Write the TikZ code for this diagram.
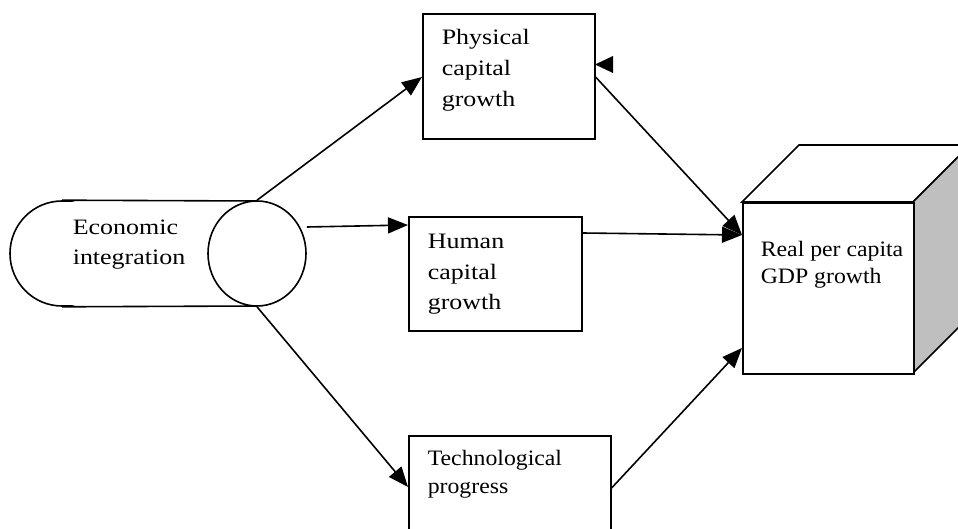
\documentclass[tikz,border=0pt]{standalone}
\usepackage{fontspec}
\setmainfont{Liberation Serif}
\newfontfamily\wideA{Liberation Serif}[FakeStretch=1.18]
\newfontfamily\wideB{Liberation Serif}[FakeStretch=1.08]
\usetikzlibrary{arrows.meta,shapes.geometric}
\newcommand\lbltxt[3]{\parbox[t]{220pt}{\fontsize{22pt}{#1}\selectfont#2#3}}
\begin{document}
\begin{tikzpicture}[x=1pt,y=-1pt,line width=1.6pt,
  box/.style={draw,rectangle,inner sep=0pt,anchor=north west,fill=white},
  lbl/.style={anchor=base west,inner sep=0pt},
  arr/.style={-{Triangle[length=20pt,width=16pt]}},
  capstyle/.style={draw,ellipse,inner sep=0pt,fill=white,minimum width=98pt,minimum height=105pt}]
\useasboundingbox (0,0) rectangle (958,529);
\clip (0,0) rectangle (958,529);
% cylinder
\node[capstyle,minimum width=104pt] (lcap) at (62,253.5) {};
\fill[white] (62,202) rectangle (257,305);
\draw (lcap.north) -- (257,201);
\draw (lcap.south) -- (257,306);
\node[capstyle] (cap) at (257,253.5) {};
\node[lbl] (econT) at (72,235) {\lbltxt{30pt}{\wideA}{Economic\\integration}};
% boxes
\node[box,minimum width=172pt,minimum height=125pt] (phys) at (422,13) {};
\node[lbl] (physT) at (441,45) {\lbltxt{31pt}{\wideA}{Physical\\capital\\growth}};
\node[box,minimum width=173pt,minimum height=114pt] (hum) at (408,216) {};
\node[lbl] (humT) at (427,249) {\lbltxt{30.5pt}{\wideA}{Human\\capital\\growth}};
\node[box,minimum width=202pt,minimum height=120pt] (tech) at (408,435) {};
\node[lbl] (techT) at (427,465) {\lbltxt{28.5pt}{\wideB}{Technological\\progress}};
% cube
\filldraw[fill=white,draw=black] (742,202) -- (799,145) -- (970,145) -- (913,202) -- cycle;
\filldraw[fill=gray!50,draw=black] (913,202) -- (970,145) -- (970,316) -- (913,373) -- cycle;
\node[box,minimum width=171pt,minimum height=171pt] (front) at (742,202) {};
\node[lbl] (frontT) at (760,257) {\lbltxt{26.5pt}{\wideB}{Real per capita\\GDP growth}};
% connectors
\draw[arr] (cap.north) -- (phys.west |- 0,77);
\draw[arr] (cap.east |- 0,227) -- (hum.west |- 0,225);
\draw[arr] (cap.south) -- (tech.west |- 0,487);
\draw[arr] (phys.east |- 0,77) -- (front.west |- 0,235);
\draw[arr] (hum.east |- 0,233) -- (front.west |- 0,235);
\draw[arr] (tech.east |- 0,488) -- (front.west |- 0,348);
\fill (595,64.5) -- (613,56) -- (613,73) -- cycle;
\end{tikzpicture}
\end{document}
